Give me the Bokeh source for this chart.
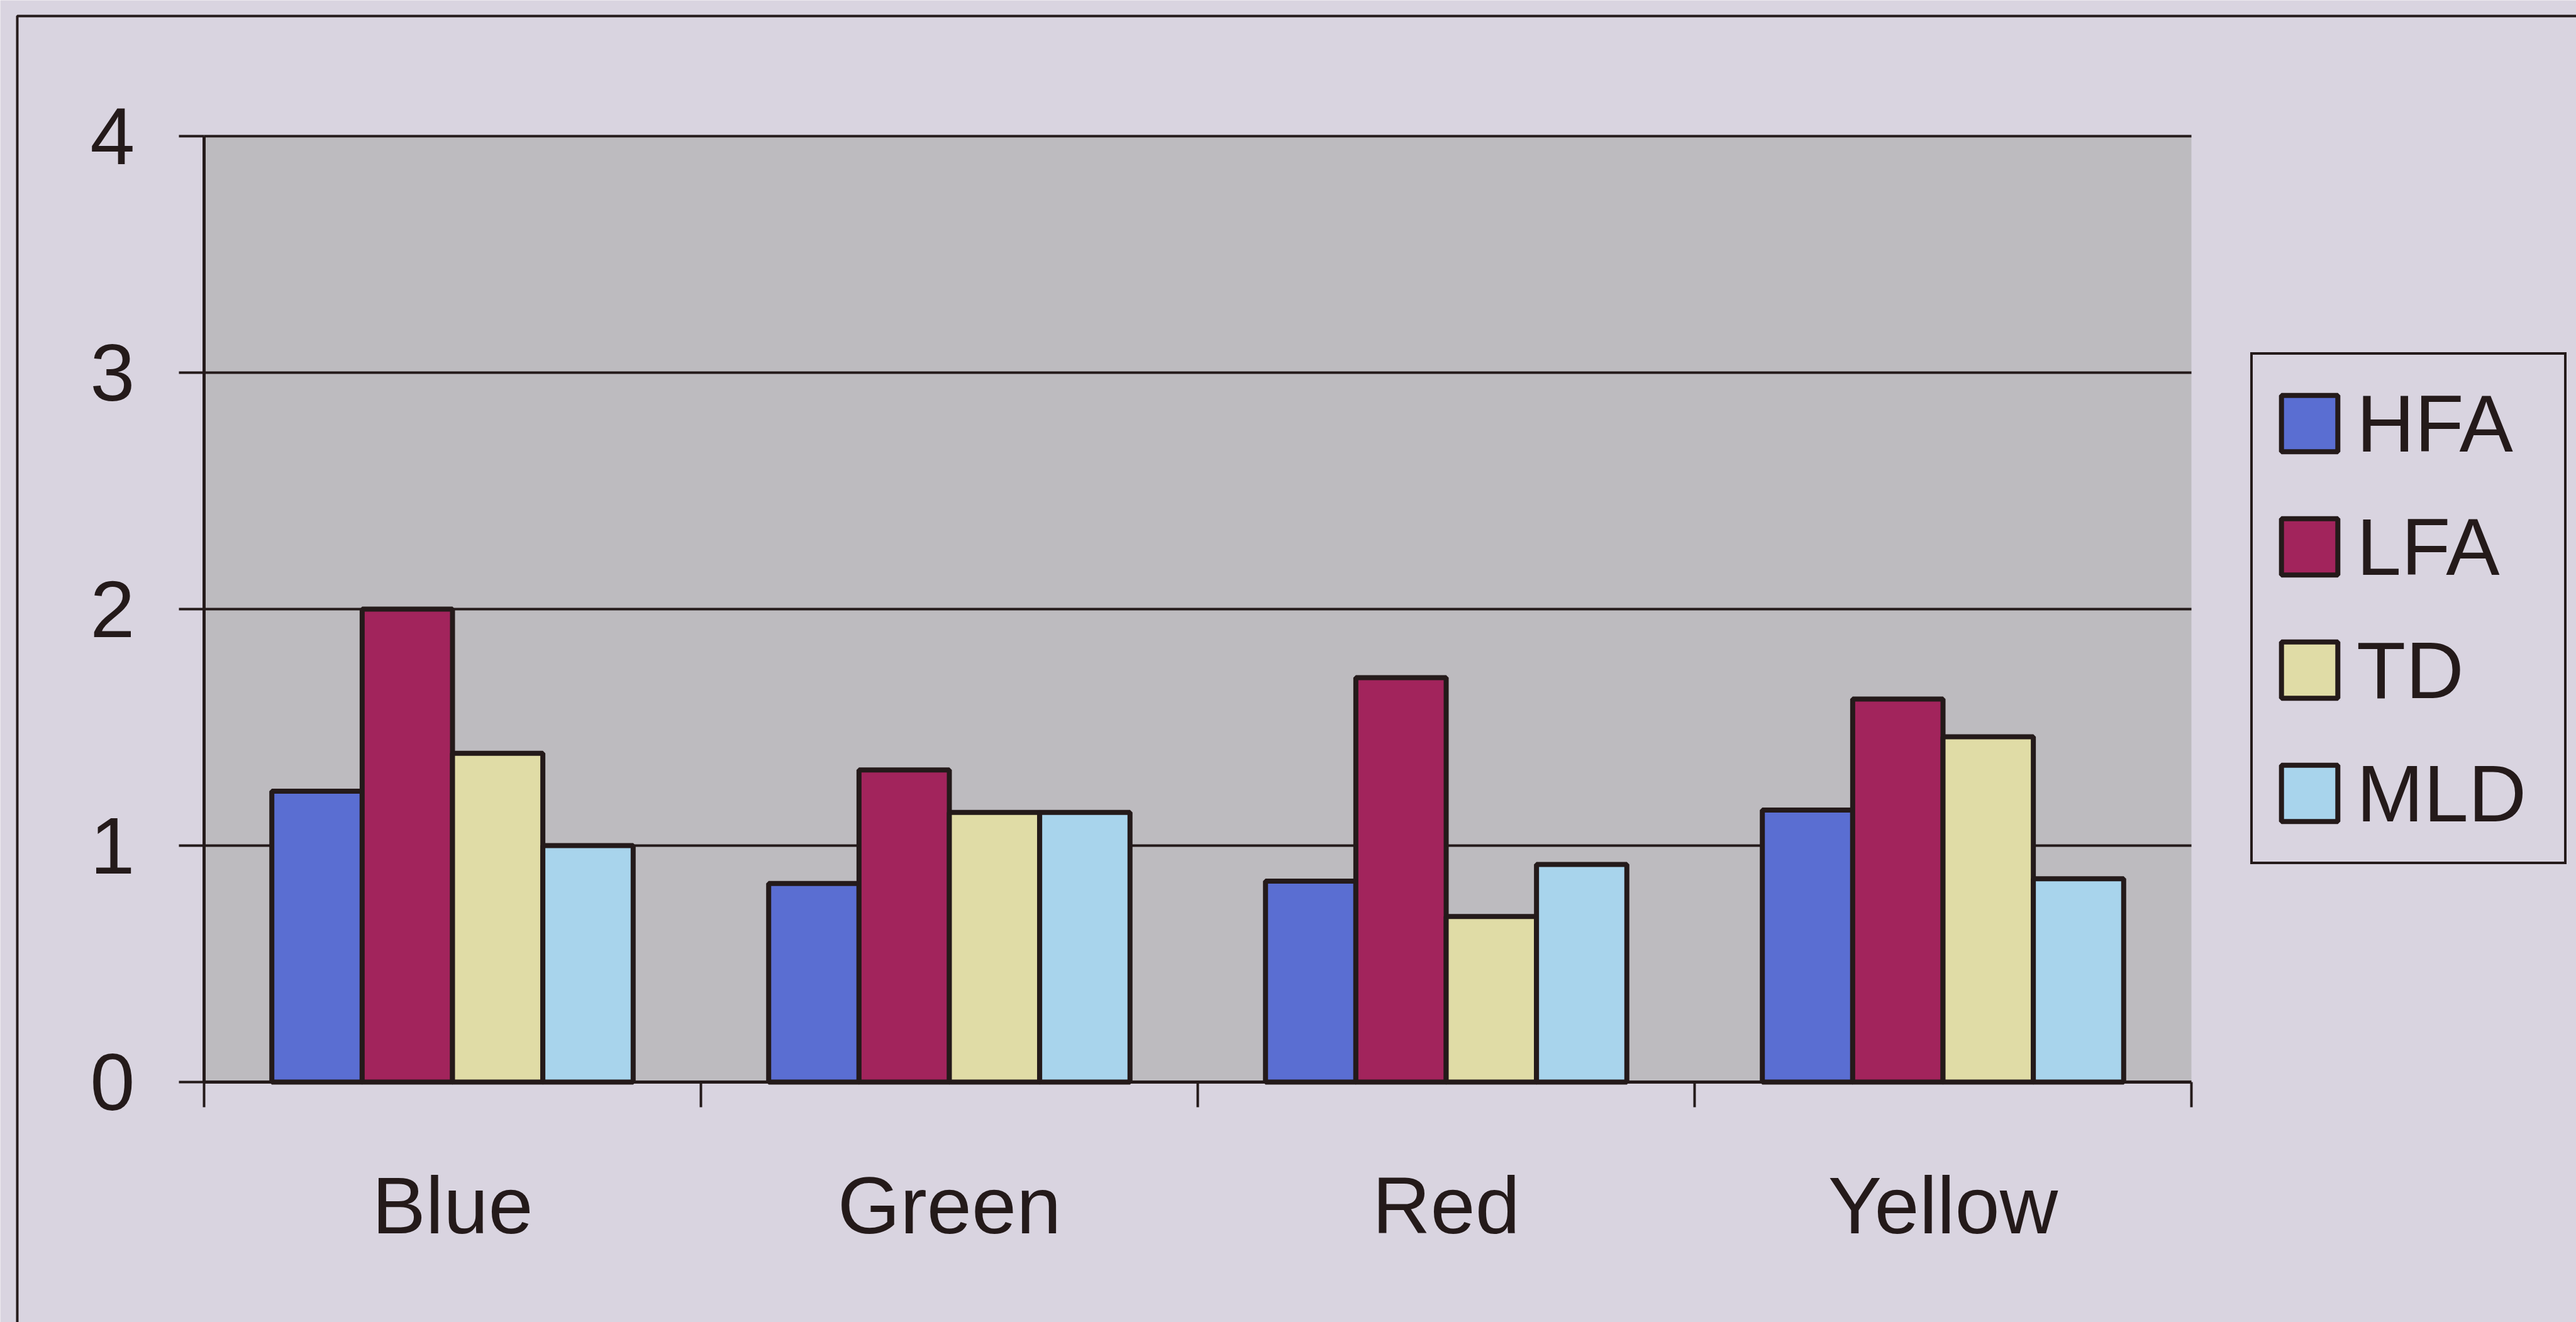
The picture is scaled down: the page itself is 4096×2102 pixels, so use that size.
from bokeh.plotting import figure
from bokeh.models import (ColumnDataSource, Range1d, FixedTicker, LinearAxis,
                          Legend, LegendItem, BoxAnnotation)
from bokeh.embed import file_html
from bokeh.resources import INLINE

# ---- data -------------------------------------------------------------
categories = ["Blue", "Green", "Red", "Yellow"]
series = ["HFA", "LFA", "TD", "MLD"]
hfa = [1.23, 0.84, 0.85, 1.15]
lfa = [2.00, 1.32, 1.71, 1.62]
td = [1.39, 1.14, 0.70, 1.46]
mld = [1.00, 1.14, 0.92, 0.86]
y_ticks = [0, 1, 2, 3, 4]

values = [hfa, lfa, td, mld]
colors = ["#5A6ED2", "#A2245C", "#E0DCA6", "#A8D4EC"]

INK = "#241A1A"
PAGE = "#D9D4E0"
PANEL = "#BDBBBF"
FONT = "Liberation Sans"
FS = "128px"

# ---- geometry (pixels) ------------------------------------------------
W, H = 4096, 2102
PLOT_L, PLOT_R = 324, 3484      # value-axis and right edge of the grey panel
PLOT_T, PLOT_B = 216, 1720      # top gridline and category axis
ncat = len(categories)
ymax = y_ticks[-1]
px_x = (PLOT_R - PLOT_L) / ncat
px_y = (PLOT_B - PLOT_T) / ymax

# the drawing frame covers the whole canvas; axes sit at fixed data locations
x_range = Range1d(-PLOT_L / px_x, (W - PLOT_L) / px_x)
y_range = Range1d(-(H - PLOT_B) / px_y, PLOT_B / px_y)

p = figure(width=W, height=H, output_backend="svg", toolbar_location=None,
           x_range=x_range, y_range=y_range,
           x_axis_type=None, y_axis_type=None,
           min_border_left=0, min_border_right=0,
           min_border_top=0, min_border_bottom=0)
p.border_fill_color = PAGE
p.background_fill_color = PAGE
p.outline_line_color = None
p.xgrid.grid_line_color = None
p.ygrid.grid_line_color = None

# grey plot area
p.add_layout(BoxAnnotation(left=0, right=ncat, bottom=0, top=ymax,
                           fill_color=PANEL, fill_alpha=1.0, line_color=None,
                           level="underlay"))

# horizontal gridlines
p.segment(x0=[0] * (len(y_ticks) - 1), x1=[ncat] * (len(y_ticks) - 1),
          y0=y_ticks[1:], y1=y_ticks[1:], line_color=INK, line_width=4)

# clustered bars: 4 bars per category, gap of 1.5 bar widths
n = len(series)
bar_w = 1.0 / (n + 1.5)
renderers = []
for j, (name, vals, col) in enumerate(zip(series, values, colors)):
    xs = [i + 0.5 + (j - (n - 1) / 2) * bar_w for i in range(ncat)]
    src = ColumnDataSource(dict(x=xs, top=vals))
    r = p.vbar(x="x", top="top", width=bar_w, bottom=0, source=src,
               fill_color=col, line_color=INK, line_width=8)
    renderers.append(r)

# value axis
yaxis = LinearAxis(ticker=FixedTicker(ticks=y_ticks), fixed_location=0,
                   bounds=(0, ymax))
yaxis.axis_line_color = INK
yaxis.axis_line_width = 5
yaxis.major_tick_line_color = INK
yaxis.major_tick_line_width = 4
yaxis.major_tick_out = 40
yaxis.major_tick_in = 0
yaxis.minor_tick_line_color = None
yaxis.major_label_standoff = 70
yaxis.major_label_text_font = FONT
yaxis.major_label_text_font_size = FS
yaxis.major_label_text_color = INK
p.add_layout(yaxis, "left")

# category axis: labels at category centres, ticks on the boundaries
xaxis = LinearAxis(ticker=FixedTicker(
    ticks=[i + 0.5 for i in range(ncat)],
    minor_ticks=list(range(ncat + 1))), fixed_location=0, bounds=(0, ncat))
xaxis.major_label_overrides = {i + 0.5: c for i, c in enumerate(categories)}
xaxis.axis_line_color = INK
xaxis.axis_line_width = 5
xaxis.major_tick_line_color = None
xaxis.major_tick_out = 0
xaxis.major_tick_in = 0
xaxis.minor_tick_line_color = INK
xaxis.minor_tick_line_width = 4
xaxis.minor_tick_out = 40
xaxis.minor_tick_in = 0
xaxis.major_label_standoff = 84
xaxis.major_label_text_font = FONT
xaxis.major_label_text_font_size = FS
xaxis.major_label_text_color = INK
p.add_layout(xaxis, "below")

legend = Legend(items=[LegendItem(label=s, renderers=[r]) for s, r in zip(series, renderers)],
                location=(3578, H - 1374),
                orientation="vertical",
                glyph_width=112, glyph_height=112,
                label_width=296, label_height=150,
                label_standoff=19, spacing=46, padding=34, margin=0,
                label_text_font=FONT, label_text_font_size=FS,
                label_text_color=INK,
                background_fill_color=PAGE, background_fill_alpha=1.0,
                border_line_color=INK, border_line_alpha=1.0,
                border_line_width=4)
p.add_layout(legend, "center")

# outer chart border
p.add_layout(BoxAnnotation(left=27, top=25, right=W + 200, bottom=H + 200,
                           left_units="canvas", right_units="canvas",
                           top_units="canvas", bottom_units="canvas",
                           fill_alpha=0, line_color=INK, line_alpha=1.0,
                           line_width=4))

open("out.html", "w").write(file_html(p, INLINE))
